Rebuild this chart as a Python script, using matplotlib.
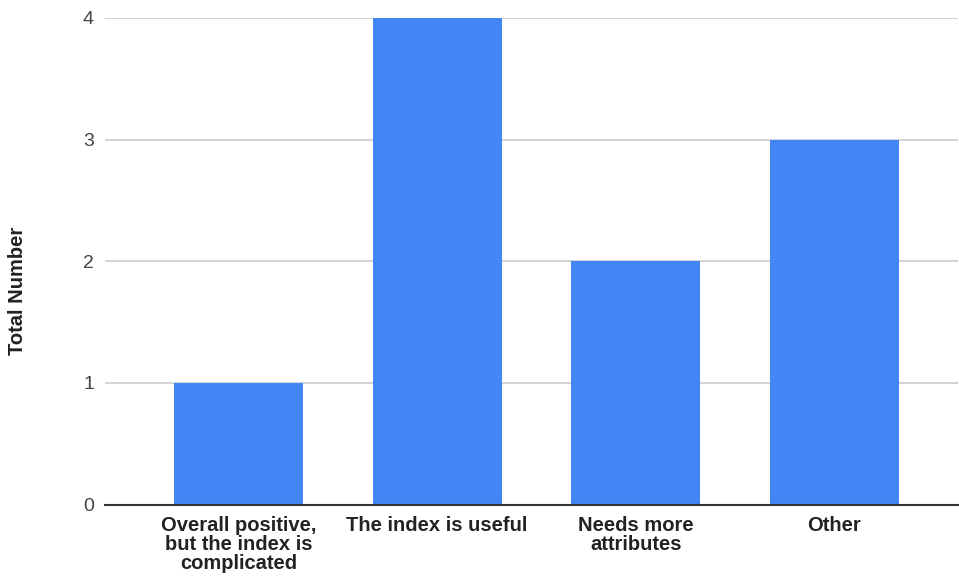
import matplotlib
matplotlib.use('Agg')
import matplotlib.pyplot as plt

categories = [
    'Overall positive,\nbut the index is\ncomplicated',
    'The index is useful',
    'Needs more\nattributes',
    'Other',
]
totals = [1, 4, 2, 3]
y_ticks = [0, 1, 2, 3, 4]

plt.rcParams['font.family'] = ['Liberation Sans', 'DejaVu Sans']

fig = plt.figure(figsize=(9.59, 5.76), dpi=100)
ax = fig.add_axes([105 / 959, 71.5 / 576, (958 - 105) / 959, 486.5 / 576])

x = range(len(categories))
ax.bar(x, totals, width=0.65, color='#4285f4', zorder=3)

ax.set_xlim(-0.672, len(categories) - 1 + 0.622)
ax.set_ylim(0, 4)
ax.set_yticks(y_ticks)
ax.set_xticks(list(x))
ax.set_xticklabels(categories, fontweight='bold', fontsize=14.5, color='#222222',
                   linespacing=1.02)

ax.grid(axis='y', color='#cccccc', linewidth=1.2, zorder=0)
ax.tick_params(axis='both', length=0)
ax.tick_params(axis='y', pad=8, labelsize=14, labelcolor='#444444')
ax.tick_params(axis='x', pad=8)

for side in ('top', 'right', 'left'):
    ax.spines[side].set_visible(False)
ax.spines['bottom'].set_color('#333333')
ax.spines['bottom'].set_linewidth(1.5)
ax.spines['bottom'].set_zorder(4)

fig.text(18 / 959, 0.495, 'Total Number', rotation=90, ha='center', va='center',
         fontsize=14.5, fontweight='bold', color='#222222')

fig.savefig('out.png', dpi=100)
